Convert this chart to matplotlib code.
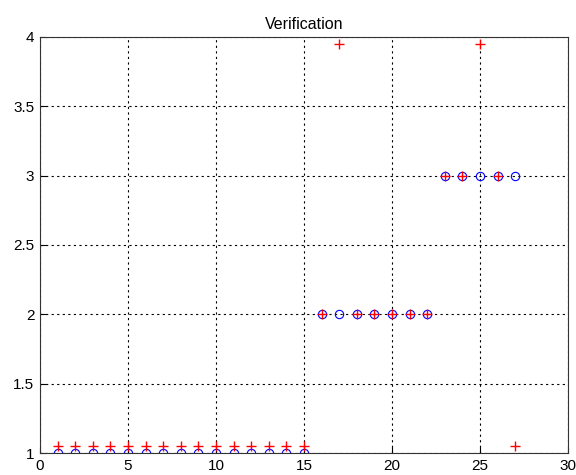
import matplotlib
matplotlib.use("Agg")
import matplotlib.pyplot as plt
import numpy as np

plt.rcParams['font.family'] = ['Liberation Sans', 'DejaVu Sans']

# expected classes (blue circles)
x_true = np.arange(1, 28)
y_true = [1]*15 + [2]*7 + [3]*5

# predicted classes (red plus)
x_pred = np.arange(1, 28)
y_pred = [1.05]*15 + [2, 3.95, 2, 2, 2, 2, 2] + [3, 3, 3.95, 3, 1.05]

fig = plt.figure(figsize=(5.76, 4.75), dpi=100)
ax = fig.add_axes([0.0694, 0.0463, 0.9167, 0.876])

ax.plot(x_true, y_true, 'o', color='blue', markerfacecolor='none', markersize=6, markeredgewidth=0.8)
ax.plot(x_pred, y_pred, '+', color='red', markersize=7, markeredgewidth=1.0)

ax.set_xlim(0, 30)
ax.set_ylim(1, 4)
ax.set_xticks(np.arange(0, 31, 5))
ax.set_yticks(np.arange(1, 4.01, 0.5))
ax.set_yticklabels(['1', '1.5', '2', '2.5', '3', '3.5', '4'])
ax.grid(True, linestyle=(0, (2, 3)), color='black', linewidth=0.8)
for s in ax.spines.values():
    s.set_color('#333333')
ax.tick_params(direction='in', labelsize=11, length=4, pad=4)
ax.set_title('Verification', fontsize=11.5)

fig.savefig('out.png', dpi=100)
